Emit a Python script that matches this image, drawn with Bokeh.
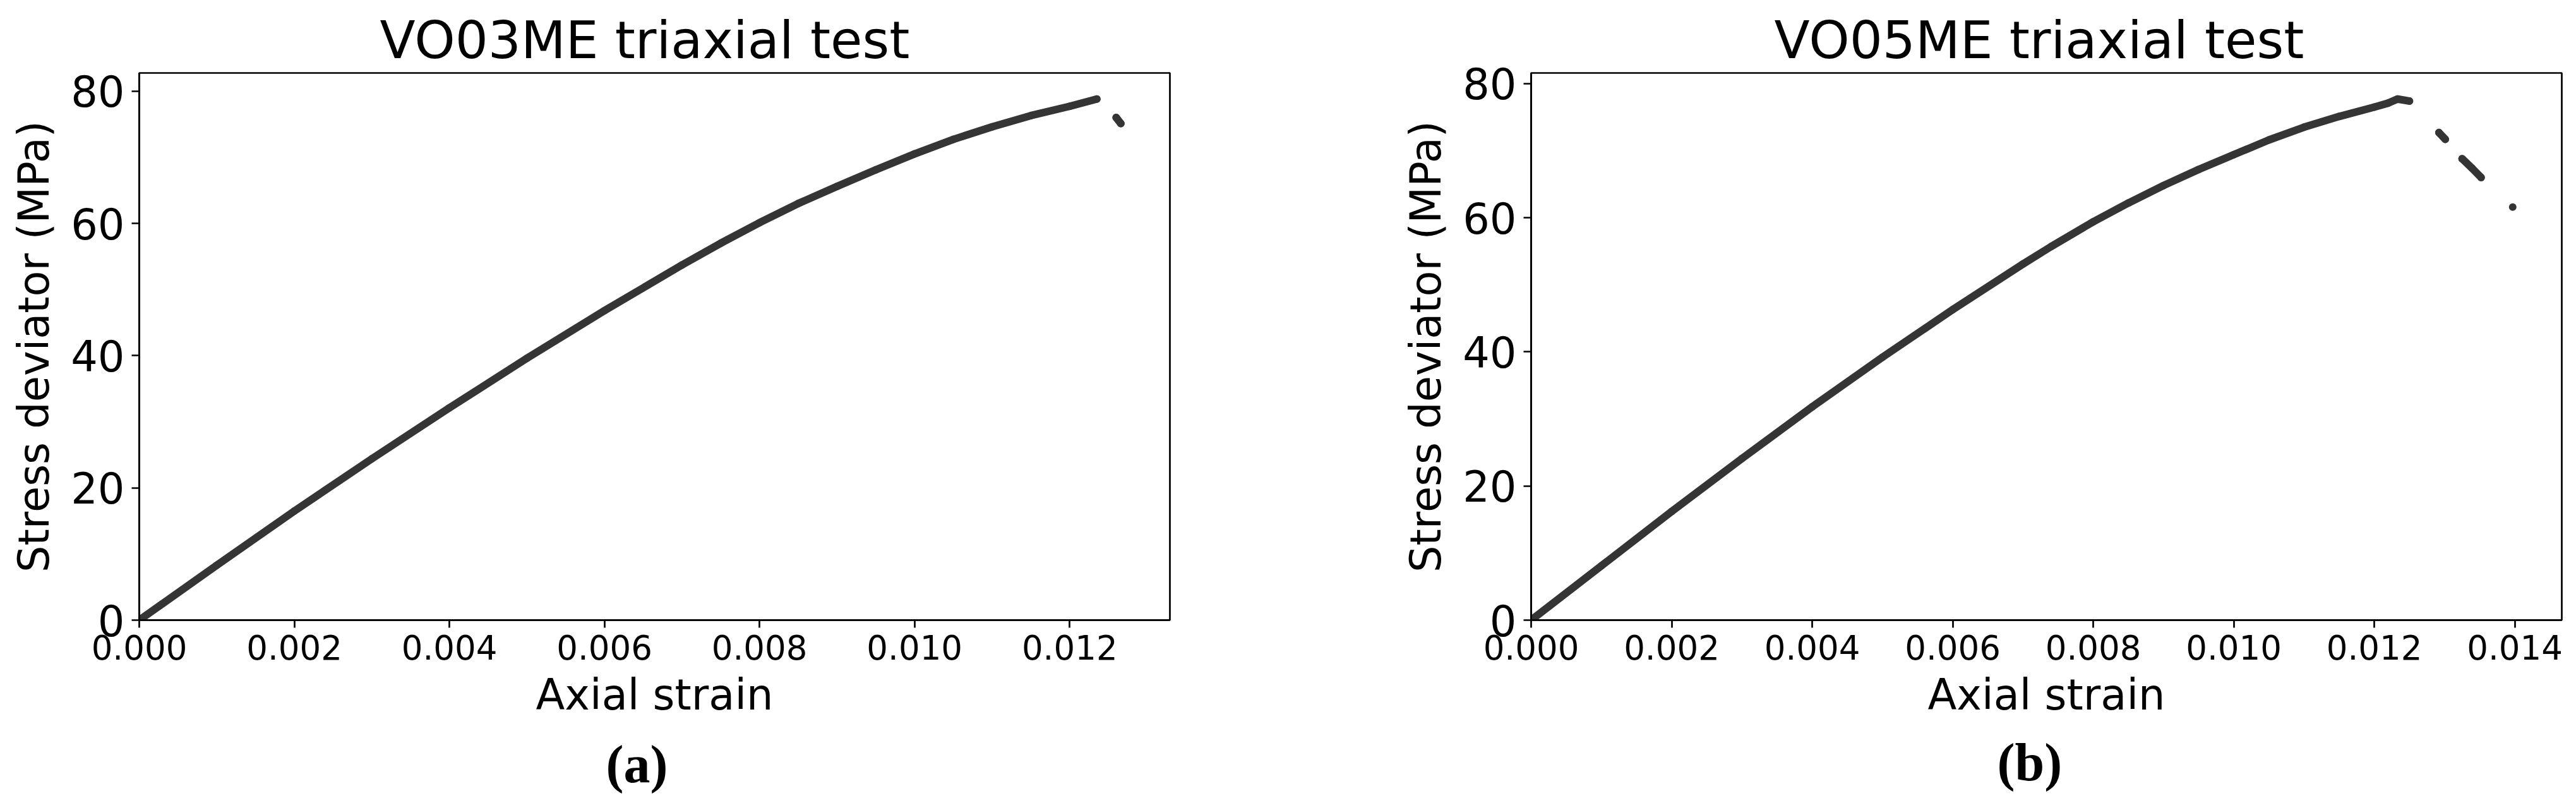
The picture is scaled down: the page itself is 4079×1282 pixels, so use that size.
from bokeh.plotting import figure
from bokeh.models import Range1d, FixedTicker, NumeralTickFormatter, Title
from bokeh.layouts import row
from bokeh.embed import file_html
from bokeh.resources import INLINE

# ---------------- data ----------------
vo03_strain = [0.0, 0.001, 0.002, 0.003, 0.004, 0.005, 0.006, 0.007, 0.0075, 0.008,
               0.0085, 0.009, 0.0095, 0.010, 0.0105, 0.011, 0.0115, 0.012, 0.01235]
vo03_stress = [0.0, 8.3, 16.5, 24.4, 32.1, 39.6, 46.8, 53.7, 57.0, 60.1,
               63.0, 65.6, 68.1, 70.5, 72.7, 74.6, 76.3, 77.7, 78.8]
vo03_tail_strain = [0.01260, 0.01266]
vo03_tail_stress = [76.0, 75.1]

vo05_strain = [0.0, 0.001, 0.002, 0.003, 0.004, 0.005, 0.006, 0.007, 0.0074, 0.008,
               0.0085, 0.009, 0.0095, 0.010, 0.0105, 0.011, 0.0115, 0.012, 0.0122,
               0.01233, 0.0125]
vo05_stress = [0.0, 8.1, 16.2, 24.1, 31.8, 39.2, 46.3, 53.1, 55.7, 59.4,
               62.2, 64.8, 67.2, 69.4, 71.6, 73.5, 75.1, 76.5, 77.1,
               77.7, 77.4]
vo05_tail1_strain = [0.01292, 0.01301]
vo05_tail1_stress = [72.7, 71.7]
vo05_tail2_strain = [0.01325, 0.01339, 0.01352]
vo05_tail2_stress = [68.8, 67.4, 66.0]
vo05_tail3_strain = [0.01397]
vo05_tail3_stress = [61.6]

x_ticks_a = [0.0, 0.002, 0.004, 0.006, 0.008, 0.010, 0.012]
x_tick_labels_a = ["0.000", "0.002", "0.004", "0.006", "0.008", "0.010", "0.012"]
x_ticks_b = [0.0, 0.002, 0.004, 0.006, 0.008, 0.010, 0.012, 0.014]
x_tick_labels_b = ["0.000", "0.002", "0.004", "0.006", "0.008", "0.010", "0.012", "0.014"]
y_ticks = [0, 20, 40, 60, 80]
y_tick_labels = ["0", "20", "40", "60", "80"]

titles = ["VO03ME triaxial test", "VO05ME triaxial test"]
captions = ["(a)", "(b)"]
x_label = "Axial strain"
y_label = "Stress deviator (MPa)"

FONT = "DejaVu Sans"
SERIF = "Liberation Serif"
CURVE = "#353535"
LW = 2.7
FIG_H = 1274
TOP = 115


def make_panel(title, caption, segments, xt, xtl, width, left, right, frame_h,
               title_off, cap_off, cap_standoff):
    all_x = [v for seg in segments for v in seg[0]]
    all_y = [v for seg in segments for v in seg[1]]
    bottom = FIG_H - TOP - frame_h
    p = figure(width=width, height=FIG_H,
               x_range=Range1d(0, 1.05 * max(all_x)),
               y_range=Range1d(0, 1.05 * max(all_y)),
               output_backend="svg", toolbar_location=None,
               min_border_left=left, min_border_right=right,
               min_border_top=TOP, min_border_bottom=bottom,
               background_fill_color="white", border_fill_color="white")
    p.grid.visible = False
    p.outline_line_color = "black"
    p.outline_line_width = LW
    p.outline_line_alpha = 1.0

    p.title.text = title
    p.title.align = "left"
    p.title.offset = title_off
    p.title.text_font = FONT
    p.title.text_font_style = "normal"
    p.title.text_font_size = "82px"
    p.title.text_color = "black"
    p.title.standoff = 9

    for sx, sy in segments:
        if len(sx) > 1:
            p.line(sx, sy, line_color=CURVE, line_width=12,
                   line_cap="round", line_join="round")
        p.scatter(sx, sy, size=12, marker="circle", fill_color=CURVE,
                  line_color=CURVE, line_width=0)

    for ax in (p.xaxis[0], p.yaxis[0]):
        ax.axis_line_color = "black"
        ax.axis_line_width = LW
        ax.major_tick_line_color = "black"
        ax.major_tick_line_width = LW
        ax.major_tick_out = 12
        ax.major_tick_in = 0
        ax.minor_tick_line_color = None
        ax.major_label_text_font = FONT
        ax.major_label_text_color = "black"
        ax.axis_label_text_font = FONT
        ax.axis_label_text_font_style = "normal"
        ax.axis_label_text_color = "black"
        ax.axis_label_text_font_size = "67px"
        ax.major_label_standoff = 11

    xa = p.xaxis[0]
    xa.ticker = FixedTicker(ticks=xt)
    xa.formatter = NumeralTickFormatter(format="0.000")
    xa.major_label_overrides = {t: l for t, l in zip(xt, xtl)}
    xa.major_label_text_font_size = "53px"
    xa.axis_label = x_label
    xa.axis_label_standoff = 14

    ya = p.yaxis[0]
    ya.ticker = FixedTicker(ticks=y_ticks)
    ya.major_label_overrides = {t: l for t, l in zip(y_ticks, y_tick_labels)}
    ya.major_label_text_font_size = "67px"
    ya.major_label_orientation = "horizontal"
    ya.axis_label = y_label
    ya.axis_label_standoff = 16

    cap = Title(text=caption, align="left", offset=cap_off, text_font=SERIF,
                text_font_style="bold", text_font_size="84px", text_color="black",
                standoff=cap_standoff)
    p.add_layout(cap, "below")
    return p


p1 = make_panel(titles[0], captions[0],
                [(vo03_strain, vo03_stress), (vo03_tail_strain, vo03_tail_stress)],
                x_ticks_a, x_tick_labels_a, width=2038, left=220, right=186,
                frame_h=874, title_off=381, cap_off=739, cap_standoff=38)
p2 = make_panel(titles[1], captions[1],
                [(vo05_strain, vo05_stress), (vo05_tail1_strain, vo05_tail1_stress),
                 (vo05_tail2_strain, vo05_tail2_stress), (vo05_tail3_strain, vo05_tail3_stress)],
                x_ticks_b, x_tick_labels_b, width=2033, left=386, right=15,
                frame_h=879, title_off=385, cap_off=738, cap_standoff=33)

layout = row(p1, p2)
open("out.html", "w").write(file_html(layout, INLINE))
